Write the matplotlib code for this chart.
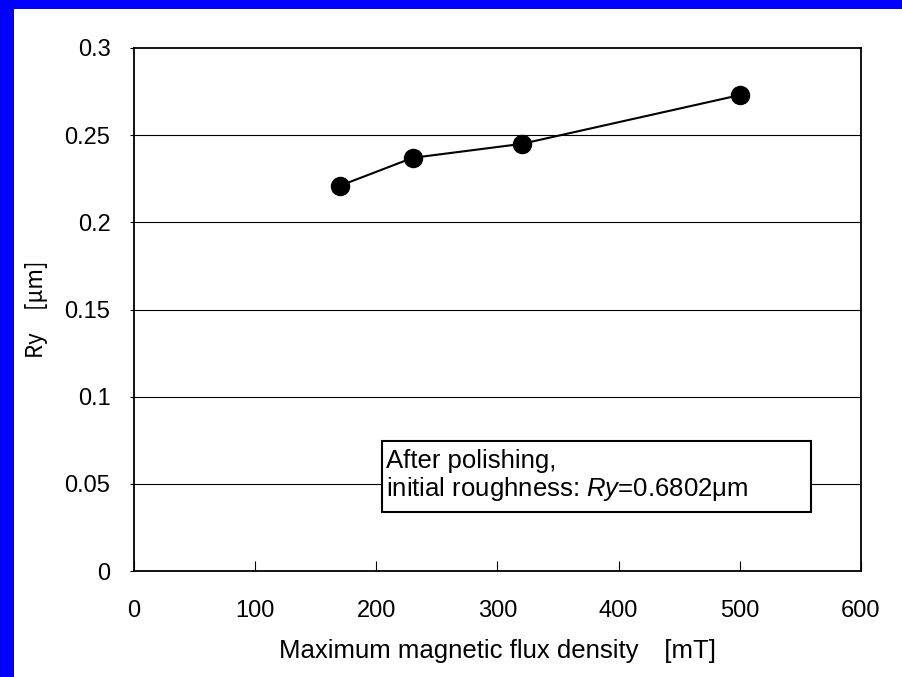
import matplotlib
matplotlib.use("Agg")
import matplotlib.pyplot as plt
from matplotlib.patches import Rectangle

# Measured surface roughness vs. flux density
flux_mT = [170, 230, 320, 500]
ry_um = [0.221, 0.237, 0.245, 0.273]

x_ticks = [0, 100, 200, 300, 400, 500, 600]
y_ticks = [0, 0.05, 0.1, 0.15, 0.2, 0.25, 0.3]
y_tick_labels = ["0", "0.05", "0.1", "0.15", "0.2", "0.25", "0.3"]

sans = ["Liberation Sans", "Noto Sans CJK JP", "DejaVu Sans"]
jp = ["Noto Sans CJK JP", "DejaVu Sans"]

plt.rcParams["mathtext.fontset"] = "custom"
plt.rcParams["mathtext.it"] = "Liberation Sans:italic"
plt.rcParams["mathtext.rm"] = "Liberation Sans"

fig = plt.figure(figsize=(9.03, 6.77), dpi=100, facecolor="white")

# blue frame strips on the left and top edges
fig.patches.append(Rectangle((0, 0), 14 / 903, 1, transform=fig.transFigure,
                             facecolor="#0000ff", edgecolor="none", zorder=0))
fig.patches.append(Rectangle((0, 1 - 9 / 677), 1, 9 / 677, transform=fig.transFigure,
                             facecolor="#0000ff", edgecolor="none", zorder=0))

ax = fig.add_axes([134 / 903, 1 - 571 / 677, (861 - 134) / 903, (571 - 48) / 677])
ax.set_xlim(0, 600)
ax.set_ylim(0, 0.3)

for y in y_ticks[1:-1]:
    ax.axhline(y, color="black", lw=0.8, zorder=1)

ax.plot(flux_mT, ry_um, color="black", lw=1.5, marker="o", markersize=13,
        markerfacecolor="black", markeredgecolor="black", zorder=3)

for s in ax.spines.values():
    s.set_linewidth(1.3)
    s.set_color("black")

ax.set_xticks(x_ticks)
ax.set_xticklabels([str(v) for v in x_ticks], fontsize=17, family=sans)
ax.set_yticks(y_ticks)
ax.set_yticklabels(y_tick_labels, fontsize=17, family=sans)
ax.tick_params(axis="x", direction="in", length=7, width=0.8, pad=21)
ax.tick_params(axis="y", direction="out", length=3, width=0.8, pad=14)

ax.set_xlabel("Maximum magnetic flux density\u3000[mT]", fontsize=18.5, family=sans,
              labelpad=12)
ax.set_ylabel("Ry\u3000[\u03bcm]", fontsize=16, family=jp, labelpad=12)

# annotation box
box = Rectangle((205, 0.034), 354, 0.0404, facecolor="white", edgecolor="black",
                lw=1.5, zorder=4)
ax.add_patch(box)
ax.text(208, 0.0544, "After polishing,\ninitial roughness: $\\mathit{Ry}$=0.6802\u03bcm",
        fontsize=18.5, family="Liberation Sans", va="center", ha="left",
        linespacing=1.1, zorder=5)

fig.savefig("out.png", dpi=100, facecolor="white")
